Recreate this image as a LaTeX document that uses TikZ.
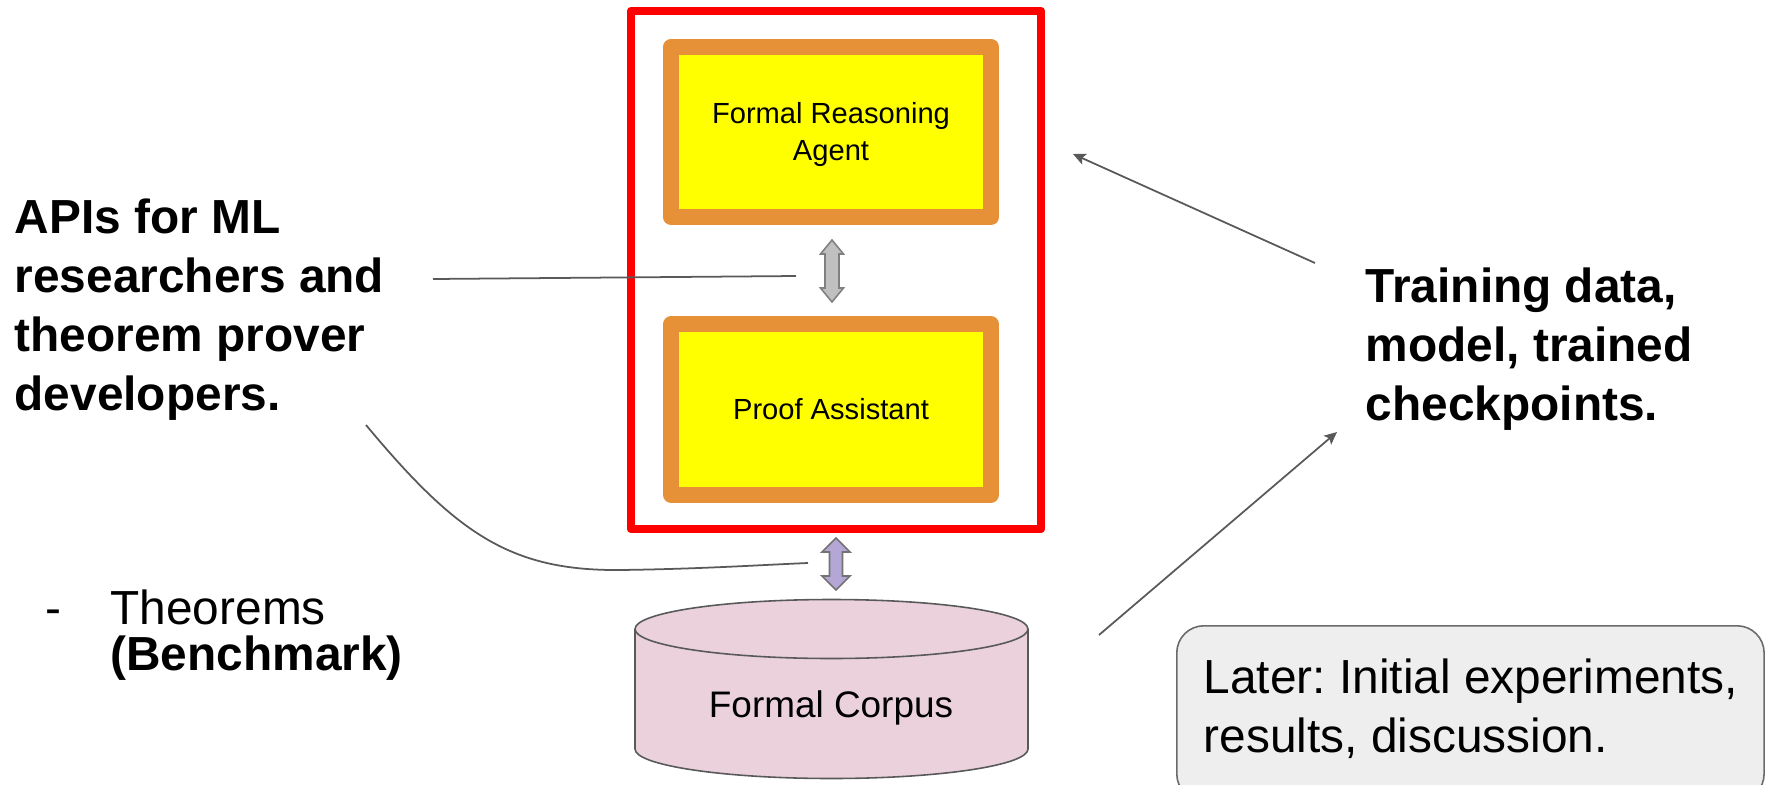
\documentclass[tikz,border=0pt]{standalone}
\usepackage{fontspec}
\setmainfont{Liberation Sans}
\usetikzlibrary{arrows.meta}

\definecolor{frameRed}{HTML}{FF0000}
\definecolor{boxOrange}{HTML}{E69138}
\definecolor{boxYellow}{HTML}{FFFF00}
\definecolor{lineGray}{HTML}{595959}
\definecolor{corpusPink}{HTML}{EAD1DC}
\definecolor{linkGray}{HTML}{C0C0C0}
\definecolor{linkPurple}{HTML}{B4A7D6}
\definecolor{noteGray}{HTML}{EEEEEE}

\newcommand\bigfont{\fontsize{13.6}{16.8}\selectfont}
\newcommand\listfont{\fontsize{13.6}{13.4}\selectfont}
\newcommand\boxfont{\fontsize{8.28}{10.3}\selectfont}
\newcommand\corpusfont{\fontsize{10.5}{12.6}\selectfont}

% vertical double-headed block arrow:
% #1 style, #2 x, #3 top y, #4 bottom y, #5 half head width, #6 half shaft width, #7 head length
\newcommand\vdblarrow[7]{%
  \draw[#1] (#2,#3) -- ++(#5,#7) -- ++(-#5+#6,0) -- (#2+#6,#4-#7)
    -- ++(#5-#6,0) -- (#2,#4) -- ++(-#5,-#7) -- ++(#5-#6,0)
    -- (#2-#6,#3+#7) -- ++(-#5+#6,0) -- cycle;}

\begin{document}
\frenchspacing
\begin{tikzpicture}[x=0.01cm, y=-0.01cm,
  redframe/.style={draw=frameRed, line width=2.28pt, line join=round,
    rectangle, inner sep=0pt, minimum width=4.1cm, minimum height=5.18cm},
  modulebox/.style={draw=boxOrange, fill=boxYellow, line width=4.55pt,
    line join=round, rectangle, inner sep=0pt, minimum width=3.2cm,
    minimum height=1.7cm, align=center, font=\boxfont},
  modulelabel/.style={align=center, font=\boxfont, inner sep=0pt},
  conn/.style={draw=lineGray, line width=0.5pt},
  tipconn/.style={conn, -{Stealth[length=3.6pt, width=3.3pt, inset=0.8pt]}},
  notebox/.style={draw=lineGray!90, fill=noteGray, line width=0.45pt,
    rounded corners=7.7pt, rectangle, inner sep=0pt},
  bigtext/.style={font=\bigfont, align=left, inner sep=0pt},
]
\useasboundingbox (0,0) rectangle (1765,784);

% system frame with its two modules
\node[redframe] (system) at (836,270) {};
\node[modulebox] (agent) at (831,132) {};
\node[modulelabel] (agentlabel) at (831,134.5) {Formal Reasoning\\Agent};
\node[modulebox] (prover) at (831,409.5) {Proof Assistant};

% link between agent and proof assistant
\vdblarrow{fill=linkGray, draw=gray, line width=0.45pt}{832}{240}{302}{11.5}{7}{14}
\coordinate (agentlink) at (832,271);

% link between system and corpus
\vdblarrow{fill=linkPurple, draw=gray!90!black, line width=0.45pt}{836}{538}{590}{14}{6.5}{14}
\coordinate (corpuslink) at (836,564);

% formal corpus cylinder
\fill[corpusPink] (635,629) -- (635,749)
  arc[start angle=180, end angle=0, x radius=196.5, y radius=29.5]
  -- (1028,629) -- cycle;
\draw[lineGray, line width=0.45pt] (635,629) -- (635,749)
  arc[start angle=180, end angle=0, x radius=196.5, y radius=29.5]
  -- (1028,629);
\draw[lineGray, line width=0.45pt, fill=corpusPink] (831.5,629)
  ellipse[x radius=196.5, y radius=29.5];
\node[font=\corpusfont] (corpus) at (831,708) {Formal Corpus};

% left-hand annotations
\node[bigtext, anchor=west, font=\bigfont\bfseries] (apis) at (14,310)
  {APIs for ML\\researchers and\\theorem prover\\developers.};
\node[bigtext, anchor=west, font=\listfont] (bench) at (45,637.4)
  {\begin{tabular}{@{}l@{\hspace{13.9pt}}l@{}}
    - & Theorems\\[-0.8pt]
      & \textbf{(Benchmark)}
   \end{tabular}};

% right-hand annotation
\node[bigtext, anchor=west, font=\bigfont\bfseries] (training) at (1365,349)
  {Training data,\\model, trained\\checkpoints.};

% note box, running off the lower edge
\node[notebox, anchor=north west, minimum width=5.87cm, minimum height=1.75cm]
  (later) at (1176,625) {};
\node[bigtext, anchor=west] (latertext) at (1203,708.5)
  {Later: Initial experiments,\\results, discussion.};

% connectors
\coordinate (apiStart) at (433,279);
\coordinate (apiEnd) at (796,276);
\draw[conn] (apiStart) -- (apiEnd);

\coordinate (benchStart) at (366,425);
\coordinate (benchEnd) at (808,563);
\draw[conn] (benchStart) .. controls (456,533) and (510,571) .. (620,570)
  .. controls (700,569) and (760,565) .. (benchEnd);

\coordinate (trainTail) at (1315,263);
\coordinate (agentHead) at (1073,154);
\draw[tipconn] (trainTail) -- (agentHead);

\coordinate (corpusTail) at (1099,635);
\coordinate (trainHead) at (1337,432);
\draw[tipconn] (corpusTail) -- (trainHead);
\end{tikzpicture}
\end{document}
